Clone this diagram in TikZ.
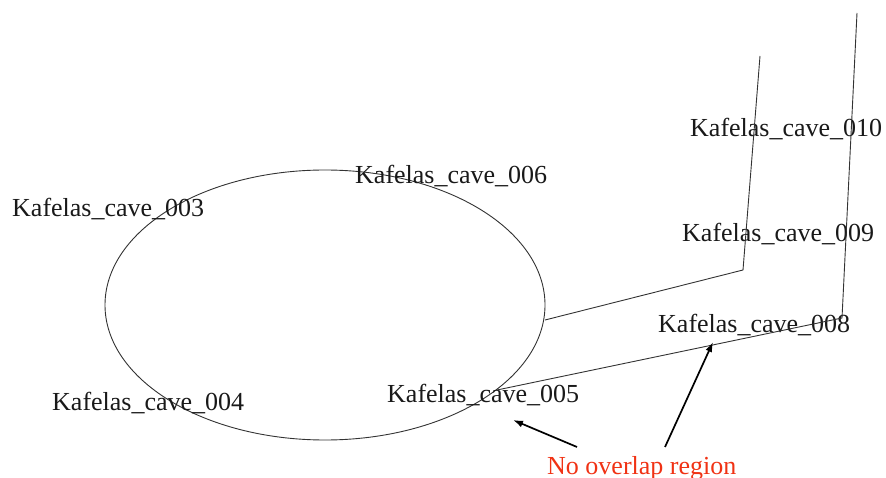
\documentclass[tikz,border=0pt]{standalone}
\usepackage{xcolor}
\usepackage{fontspec}
\setmainfont{Liberation Serif}
\usepackage{tikz}
\usetikzlibrary{shapes.geometric,arrows.meta}
\definecolor{noteRed}{RGB}{240,50,20}

\begin{document}
\begin{tikzpicture}[x=1pt,y=-1pt]
			\tikzstyle{cave} = [anchor=base west, inner sep=0pt, text=black!90, font=\fontsize{26}{30}\selectfont]
			\tikzstyle{note} = [anchor=base west, inner sep=0pt, text=noteRed, font=\fontsize{26}{30}\selectfont]
			\tikzstyle{track} = [draw=black!80, line width=0.9pt]
			\tikzset{edge/.style = {-{Latex[length=10pt,width=7pt]}, line width=1.7pt}}
			
			\useasboundingbox (0,0) rectangle (886,478);
			
			\node[track, ellipse, minimum width=440pt, minimum height=270pt, inner sep=0pt](loop) at (325,305) {};
			
			\node[cave](cave3) at (12,217) {Kafelas\_cave\_003};
			\node[cave](cave4) at (52,410) {Kafelas\_cave\_004};
			\node[cave](cave5) at (387,402) {Kafelas\_cave\_005};
			\node[cave](cave6) at (355,184) {Kafelas\_cave\_006};
			\node[cave](cave8) at (658,332) {Kafelas\_cave\_008};
			\node[cave](cave9) at (682,242) {Kafelas\_cave\_009};
			\node[cave](cave10) at (690,137) {Kafelas\_cave\_010};
			
			\coordinate (start1) at (545,320);
			\coordinate (bend1) at (743,270);
			\coordinate (end1) at (760,56);
			\coordinate (start2) at (497,390);
			\coordinate (bend2) at (842,318);
			\coordinate (end2) at (857,13);
			\draw[track](start1) -- (bend1) -- (end1);
			\draw[track](start2) -- (bend2) -- (end2);
			
			\node[note](gap) at (547,474) {No overlap region};
			\coordinate (tail1) at (577,447);
			\coordinate (tip1) at (513,420);
			\coordinate (tail2) at (665,447);
			\coordinate (tip2) at (713,342);
			\draw[edge](tail1) to (tip1);
			\draw[edge](tail2) to (tip2);
			
\end{tikzpicture}
\end{document}
